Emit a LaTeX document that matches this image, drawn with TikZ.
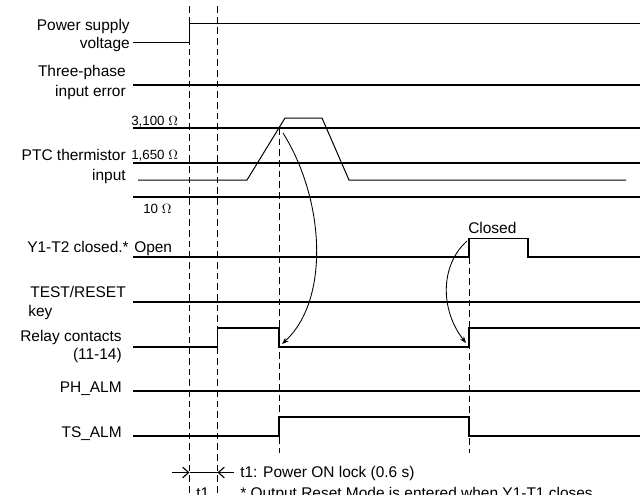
\documentclass[tikz,border=0pt]{standalone}
\usepackage{fontspec}
\setmainfont{Liberation Sans}
\usetikzlibrary{arrows.meta}
\begin{document}
\begin{tikzpicture}[x=0.75pt,y=-0.75pt,
  sig/.style={line width=1pt, line join=miter},
  trace/.style={line width=0.75pt},
  guide/.style={line width=0.5pt, dash pattern=on 5pt off 3pt},
  curvearrow/.style={line width=0.65pt, -{Stealth[length=5pt,width=3.8pt]}},
  dimarrow/.style={line width=0.85pt, -{Straight Barb[length=4.5pt,width=8pt,line width=0.85pt]}},
  lab/.style={inner sep=0pt, anchor=base east, font=\fontsize{11.6}{13.9}\selectfont},
  labl/.style={inner sep=0pt, anchor=base west, font=\fontsize{11.6}{13.9}\selectfont},
  ohm/.style={inner sep=0pt, anchor=base west, font=\fontsize{10}{12}\selectfont}]
\useasboundingbox (0,0) rectangle (643,494);

% guide dashed lines
\draw[guide] (189.5,6) -- (189.5,494);
\draw[guide] (217.5,6) -- (217.5,494);
\draw[guide] (279,128) -- (279,453);
\draw[guide] (469,257) -- (469,453);

% labels
\node[lab] (ps1) at (130,30) {Power supply};
\node[lab] (ps2) at (130,48.5) {voltage};
\node[lab] (tp1) at (126,76) {Three-phase};
\node[lab] (tp2) at (126,96) {input error};
\node[lab] (ptc1) at (126,160) {PTC thermistor};
\node[lab] (ptc2) at (126,180) {input};
\node[ohm] (o1) at (131,125) {3,100 $\Omega$};
\node[ohm] (o2) at (131,159) {1,650 $\Omega$};
\node[ohm] (o3) at (143,213) {10 $\Omega$};
\node[lab] (y1) at (129,252) {Y1-T2 closed.*};
\node[labl] (open) at (134,252) {Open};
\node[labl] (closed) at (468,233) {Closed};
\node[lab] (tr1) at (126,297) {TEST/RESET};
\node[labl] (tr2) at (28,316) {key};
\node[lab] (rc1) at (122,341) {Relay contacts};
\node[lab] (rc2) at (122,359) {(11-14)};
\node[lab] (ph) at (122,392.5) {PH\_ALM};
\node[lab] (ts) at (122,437.5) {TS\_ALM};
\node[labl] (t1note) at (240,477.5) {t1: Power ON lock (0.6 s)};
\node[labl] (t1) at (196,498) {t1};
\node[labl] (note) at (240,498) {* Output Reset Mode is entered when Y1-T1 closes.};

% signals
\draw[sig] (133,42.7) -- (189.5,42.7) -- (189.5,23.3) -- (640,23.3);
\draw[sig] (133,85) -- (640,85);
\draw[sig] (133,128) -- (640,128);
\draw[sig] (133,163) -- (640,163);
\draw[sig] (133,197) -- (640,197);
\draw[trace] (138,180) -- (247,180) -- (285,118) -- (322,118) -- (349,180) -- (626,180);
\draw[sig] (133,257) -- (469,257) -- (469,238.5) -- (528,238.5) -- (528,257) -- (640,257);
\draw[sig] (133,302) -- (640,302);
\draw[sig] (133,347) -- (217.5,347) -- (217.5,328) -- (279,328) -- (279,347) -- (469,347) -- (469,328) -- (640,328);
\draw[sig] (133,391) -- (640,391);
\draw[sig] (133,436) -- (279,436) -- (279,417) -- (469,417) -- (469,436) -- (640,436);

% causal arrows
\coordinate (a1s) at (283,133);
\coordinate (a1e) at (282,344);
\coordinate (a2s) at (467,241);
\coordinate (a2e) at (466,343);
\draw[curvearrow] (a1s) .. controls (325,200) and (330,300) .. (a1e);
\draw[curvearrow] (a2s) .. controls (440,265) and (440,310) .. (a2e);

% t1 dimension
\coordinate (d0) at (172,472.5);
\coordinate (d1) at (189.5,472.5);
\coordinate (d2) at (217.5,472.5);
\coordinate (d3) at (234,472.5);
\draw[dimarrow] (d0) -- (d1);
\draw[dimarrow] (d3) -- (d2);
\draw[line width=0.85pt] (d1) -- (d2);
\end{tikzpicture}
\end{document}
